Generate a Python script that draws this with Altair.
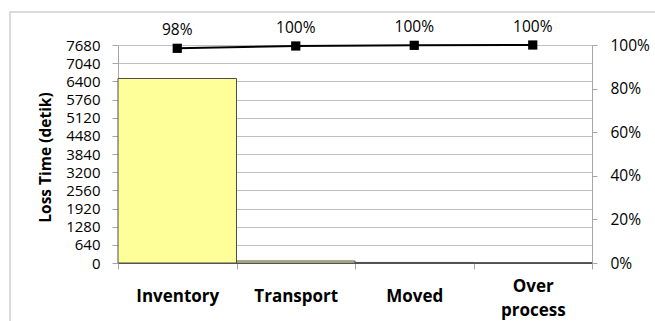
import altair as alt
import pandas as pd

# Loss time per waste category (seconds) and the Pareto cumulative share
categories = ["Inventory", "Transport", "Moved", "Over process"]
loss_time = [6500, 70, 20, 10]
left_ticks = [0, 640, 1280, 1920, 2560, 3200, 3840, 4480, 5120, 5760, 6400, 7040, 7680]
right_ticks = [0, 0.2, 0.4, 0.6, 0.8, 1.0]

df = pd.DataFrame({"kategori": categories, "loss": loss_time})
df["kumulatif"] = df["loss"].cumsum() / df["loss"].sum()

FONT = "Open Sans"
GREY = "#a6a6a6"
W, H = 474, 218

x_enc = alt.X(
    "kategori:N",
    sort=categories,
    scale=alt.Scale(paddingInner=0, paddingOuter=0),
    axis=alt.Axis(
        title=None,
        labelAngle=0,
        labelExpr="datum.value ? split(datum.value, ' ') : ''",
        labelFont=FONT,
        labelFontSize=17,
        labelFontWeight="bold",
        labelColor="#000000",
        labelLineHeight=24,
        labelBaseline="middle",
        labelPadding=alt.condition("datum.value == 'Over process'", alt.value(17), alt.value(27)),
        tickSize=6,
        tickColor=GREY,
        tickBand="extent",
        domainColor="#595959",
        grid=False,
    ),
)

frame = alt.Chart(pd.DataFrame({"f": [0]})).mark_rect(
    fill="transparent", stroke="#d0d0d0", strokeWidth=1.5
).encode(
    x=alt.value(-108), x2=alt.value(W + 80), y=alt.value(-33), y2=alt.value(H + 80)
)

bars = alt.Chart(df).mark_bar(
    fill="#ffff99", stroke="#4d4d4d", strokeWidth=1
).encode(
    x=x_enc,
    y=alt.Y(
        "loss:Q",
        scale=alt.Scale(domain=[0, 7680], nice=False),
        axis=alt.Axis(
            title="Loss Time (detik)",
            titleFont=FONT,
            titleFontSize=15.5,
            titleFontWeight="bold",
            titleColor="#000000",
            titleAngle=-90,
            titleX=-73,
            titleY=112,
            titleAlign="center",
            titleBaseline="middle",
            values=left_ticks,
            format="d",
            labelFont=FONT,
            labelFontSize=15,
            labelColor="#000000",
            labelPadding=12,
            tickSize=6,
            tickColor=GREY,
            domainColor=GREY,
            grid=True,
            gridColor="#bfbfbf",
            gridWidth=1,
        ),
    ),
)

y_pct = alt.Y(
    "kumulatif:Q",
    scale=alt.Scale(domain=[0, 1], nice=False),
    axis=alt.Axis(
        title=None,
        orient="right",
        values=right_ticks,
        format=".0%",
        labelFont=FONT,
        labelFontSize=15.5,
        labelColor="#000000",
        labelPadding=13,
        tickSize=5,
        tickColor=GREY,
        domainColor=GREY,
        grid=False,
    ),
)

line = alt.Chart(df).mark_line(color="#000000", strokeWidth=2).encode(x=x_enc, y=y_pct)
points = alt.Chart(df).mark_point(
    shape="square", filled=True, color="#000000", size=85, opacity=1
).encode(x=x_enc, y=y_pct)
labels = alt.Chart(df).mark_text(
    font=FONT, fontSize=15.5, color="#000000", dy=-18, baseline="middle"
).encode(x=x_enc, y=y_pct, text=alt.Text("kumulatif:Q", format=".0%"))

pareto = alt.layer(line, points, labels)

chart = alt.layer(frame, bars, pareto).resolve_scale(y="independent").properties(
    width=W,
    height=H,
    autosize=alt.AutoSizeParams(type="none"),
    padding={"left": 118, "top": 45, "right": 63, "bottom": 58},
).configure_view(stroke=None).configure(background="#ffffff")

chart.save("out.html", embed_options={"renderer": "svg", "actions": False})
